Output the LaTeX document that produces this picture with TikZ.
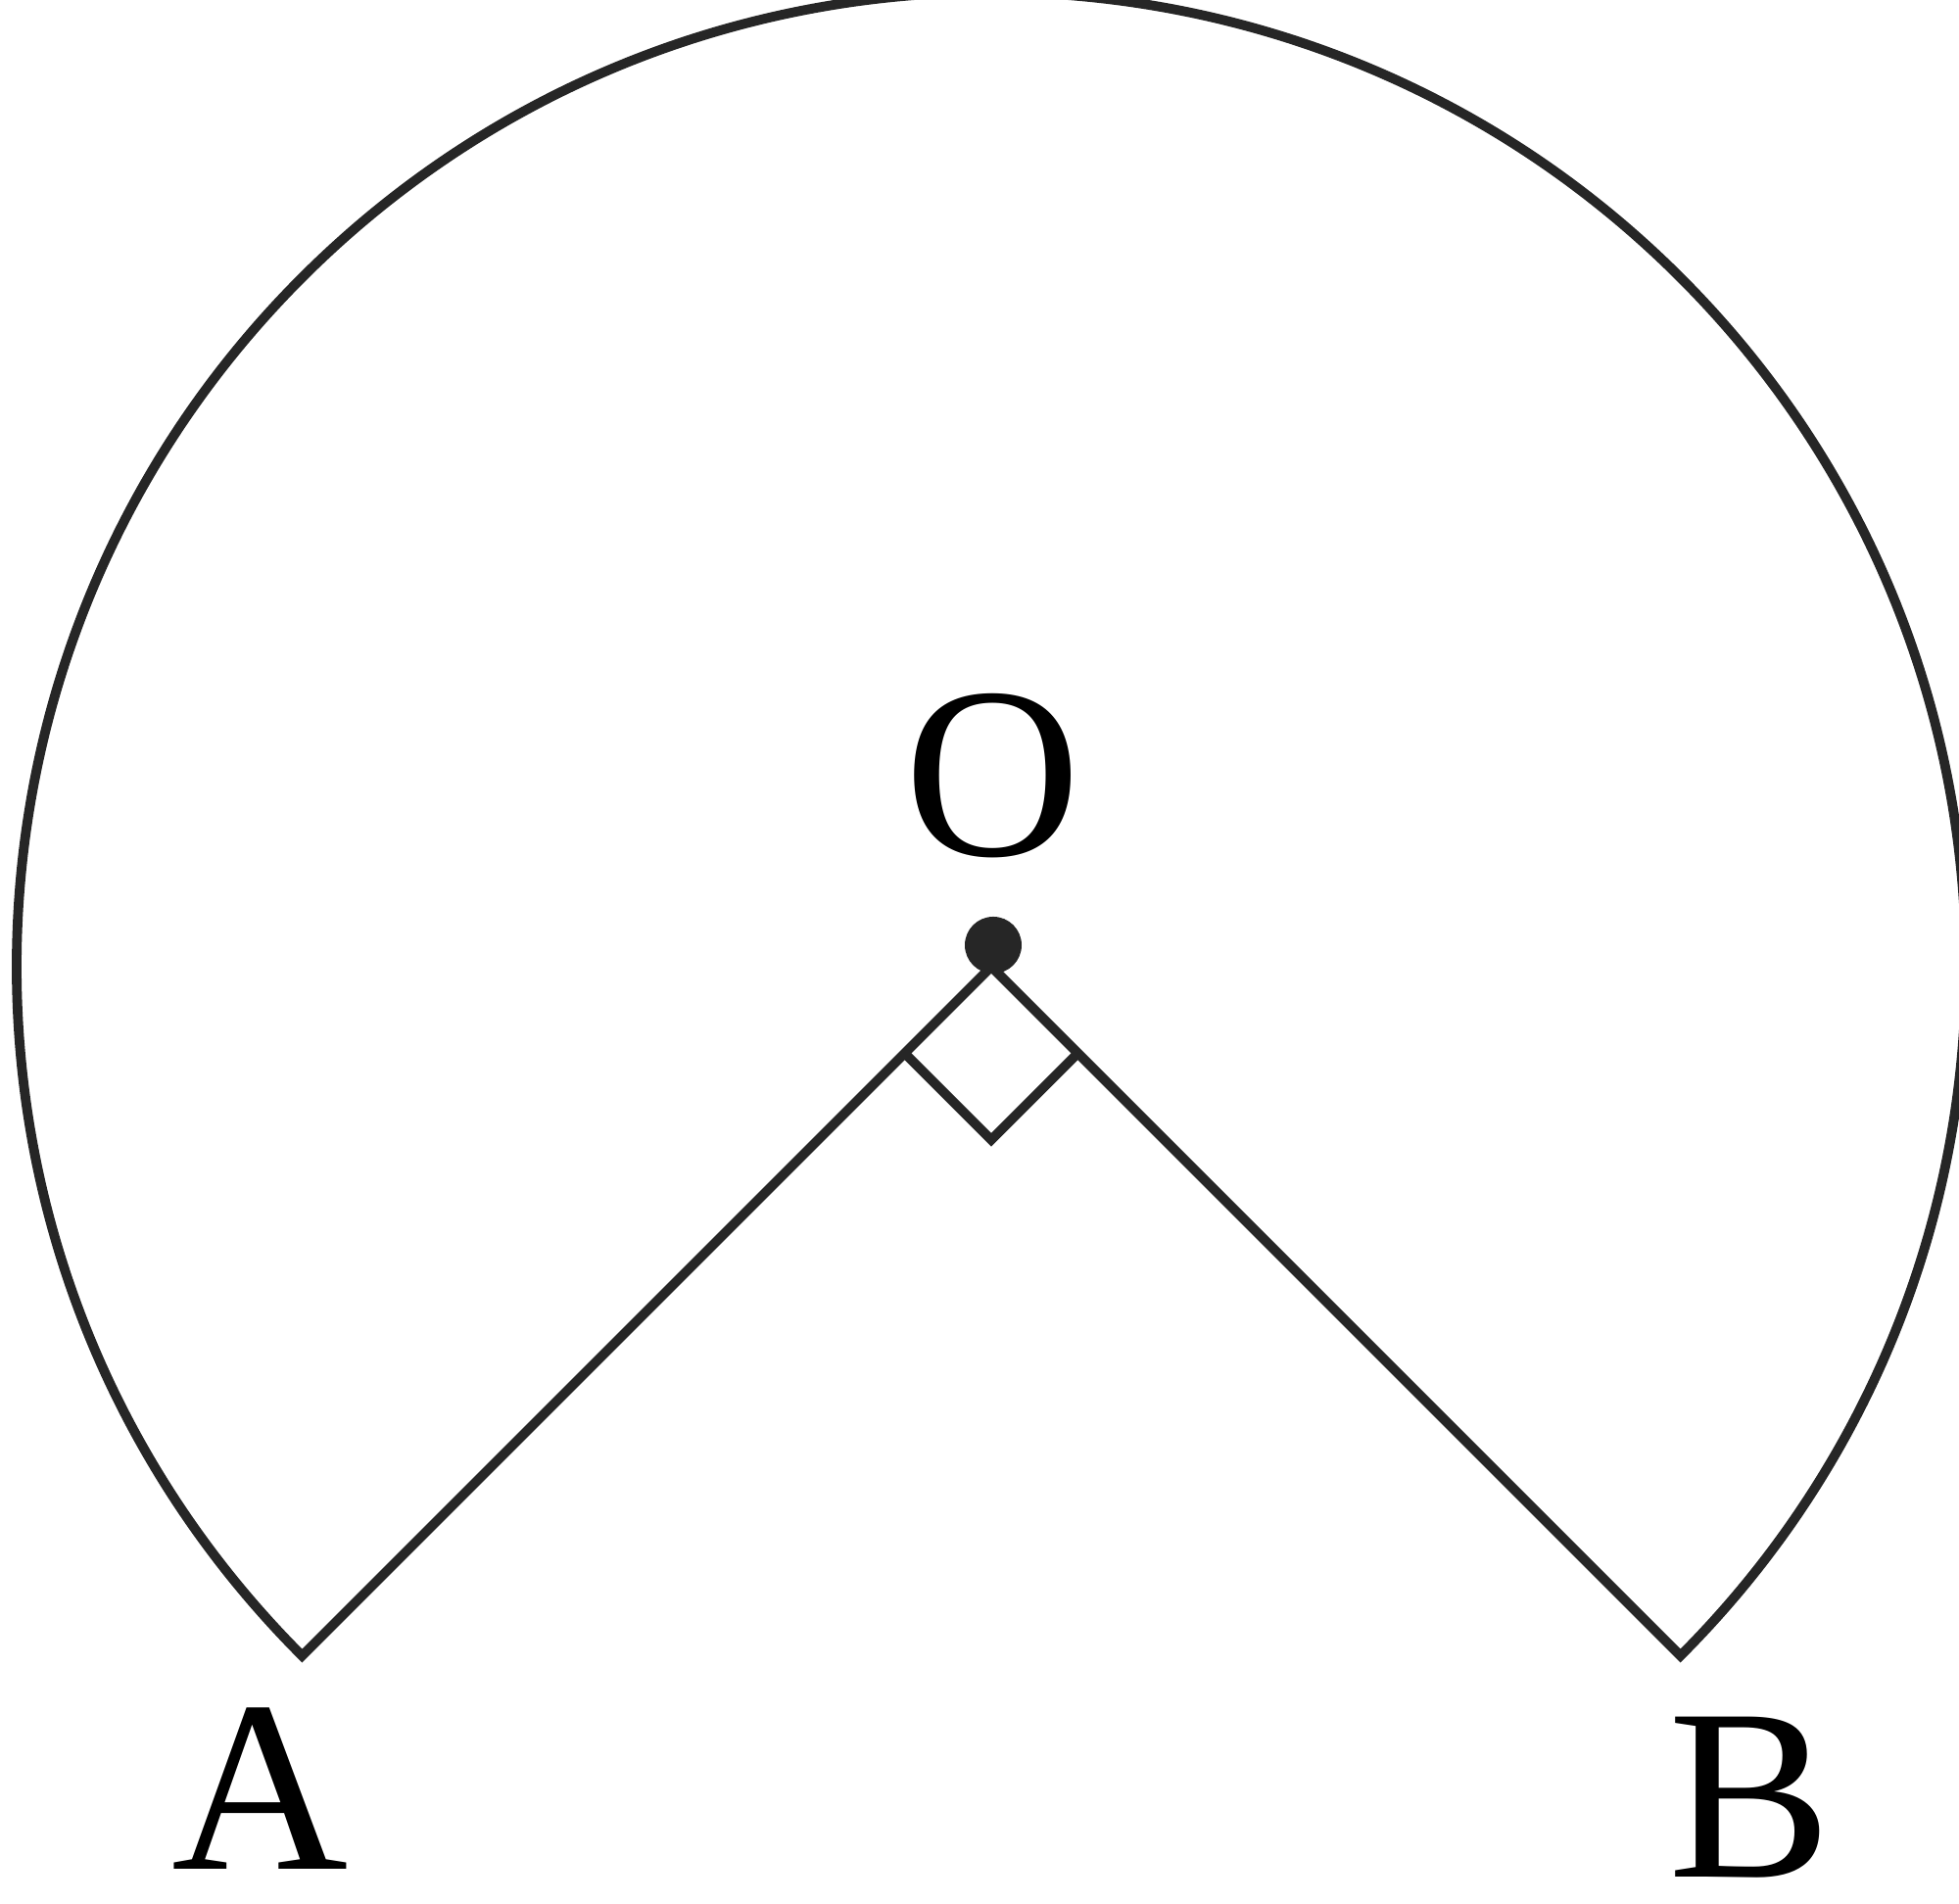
\documentclass[tikz,border=0pt]{standalone}
\usepackage{fontspec}
\setmainfont{Liberation Serif}
\usetikzlibrary{calc}
\begin{document}
\begin{tikzpicture}[
  figline/.style={line width=2.8pt, line join=miter, black!85},
  lbl/.style={inner sep=0pt, font=\fontsize{71}{80}\selectfont}
]
\useasboundingbox (0,0) rectangle (20,19.44);
\coordinate (O) at (10.12,9.57);
\coordinate (A) at ($(O)+(225:9.95)$);
\coordinate (B) at ($(O)+(-45:9.95)$);
\coordinate (P) at ($(O)+(225:1.25)$);
\coordinate (Q) at ($(O)+(-45:1.25)$);
\coordinate (R) at ($(O)+(-90:1.768)$);
% sector outline
\draw[figline] (O) -- (A) arc[start angle=225, end angle=-45, radius=9.95] -- cycle;
% right angle mark
\draw[figline] (P) -- (R) -- (Q);
% centre dot
\fill[black!85] ($(O)+(0.02,0.22)$) circle (0.29);
% labels
\node[lbl] (lO) at (10.14,11.52) {O};
\node[lbl] (lA) at (2.66,1.18) {A};
\node[lbl] (lB) at (17.87,1.09) {B};
\end{tikzpicture}
\end{document}
